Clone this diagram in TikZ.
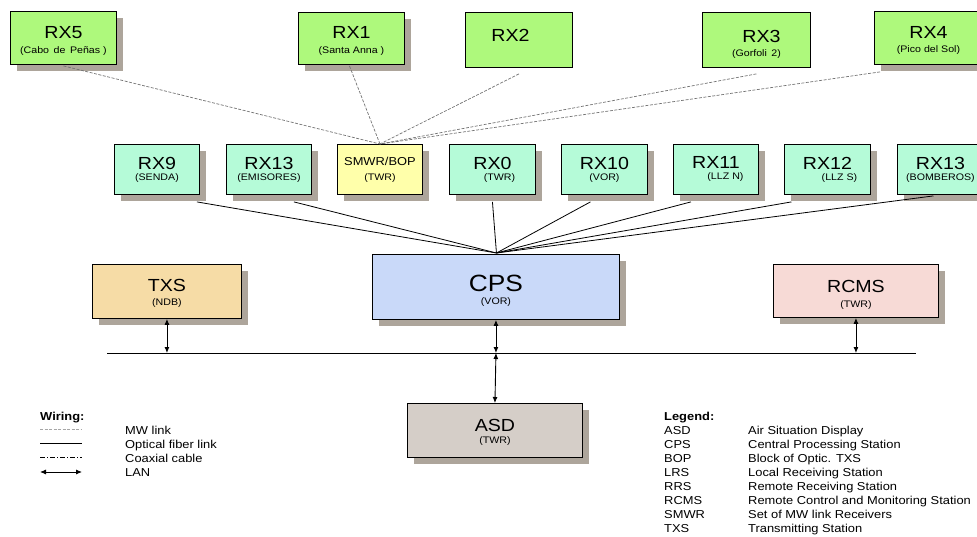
\documentclass[tikz,border=0pt]{standalone}
\usepackage{fontspec}
\setmainfont[FakeStretch=1.12]{Liberation Sans}
\usetikzlibrary{shadows,arrows.meta,calc}
\definecolor{topg}{HTML}{AEF97C}
\definecolor{mintc}{HTML}{B5FBD8}
\definecolor{ylwc}{HTML}{FFFFAA}
\definecolor{tanc}{HTML}{F6DCA6}
\definecolor{bluec}{HTML}{C9D9F9}
\definecolor{pinkc}{HTML}{F7DAD6}
\definecolor{asdc}{HTML}{D5CEC8}
\definecolor{shadc}{HTML}{ADA59B}
\newcommand\sbt[1]{{\fontsize{9.5}{10}\selectfont #1}}
\newcommand\tstrut[1]{\rule{0pt}{#1pt}}
\tikzset{
  box/.style={draw=black, line width=0.9pt, anchor=north west, inner sep=0pt, align=center,
    font=\fontsize{17.5}{17.5}\selectfont},
  shd/.style={drop shadow={shadow xshift=7pt, shadow yshift=-7pt, fill=shadc, opacity=1}},
  mwlink/.style={draw=black!55, line width=0.7pt, dash pattern=on 3pt off 1.5pt},
  fiber/.style={draw=black, line width=0.8pt},
  lan/.style={draw=black, line width=0.9pt, {Latex[length=6pt,width=5pt]}-{Latex[length=6pt,width=5pt]}},
  coax/.style={draw=black, line width=0.8pt, dash pattern=on 5pt off 2pt on 1pt off 2pt},
  legtxt/.style={anchor=base west, inner sep=0pt, font=\fontsize{11.5}{11.5}\selectfont}
}
\begin{document}
\begin{tikzpicture}[x=1pt,y=-1pt]
\useasboundingbox (0,0) rectangle (977,537);
\clip (0,0) rectangle (977,537);
% top row
\node[box, shd, fill=topg, minimum width=106pt, minimum height=53pt] (rx5) at (10,11) {\tstrut{18.5}RX5\\[-3pt]\sbt{(Cabo\, de\, Peñas )}};
\node[box, shd, fill=topg, minimum width=106pt, minimum height=52pt] (rx1) at (298,12) {\tstrut{17.5}RX1\\[-3pt]\sbt{(Santa Anna )}};
\node[box, fill=topg, minimum width=107pt, minimum height=55pt] (rx2) at (465,12) {RX2\hspace*{17pt}\rule[-9pt]{0pt}{9pt}};
\node[box, fill=topg, minimum width=108pt, minimum height=55pt] (rx3) at (702,12) {\tstrut{21.5}\hspace*{10pt}RX3\\[-3pt]\sbt{(Gorfoli\, 2)}};
\node[box, shd, fill=topg, minimum width=108pt, minimum height=53pt] (rx4) at (874,11) {\tstrut{17.5}RX4\\[-3pt]\sbt{(Pico del Sol)}};
% second row
\node[box, shd, fill=mintc, minimum width=85pt, minimum height=50pt] (rx9) at (114,144) {RX9\\[-6.5pt]\sbt{(SENDA)}};
\node[box, shd, fill=mintc, minimum width=85pt, minimum height=50pt] (rx13e) at (226,144) {RX13\\[-6.5pt]\sbt{(EMISORES)}};
\node[box, shd, fill=ylwc, minimum width=85pt, minimum height=50pt, font=\fontsize{11.5}{11.5}\selectfont] (smwr) at (337,144) {SMWR/BOP\\[3.5pt]\sbt{(TWR)}};
\node[box, shd, fill=mintc, minimum width=86pt, minimum height=50pt] (rx0) at (449,144) {RX0\\[-6.5pt]\hspace*{14pt}\sbt{(TWR)}};
\node[box, shd, fill=mintc, minimum width=86pt, minimum height=50pt] (rx10) at (561,144) {RX10\\[-6.5pt]\sbt{(VOR)}};
\node[box, shd, fill=mintc, minimum width=85pt, minimum height=50pt] (rx11) at (673,144) {RX11\\[-6.5pt]\hspace*{19pt}\sbt{(LLZ N)}};
\node[box, shd, fill=mintc, minimum width=86pt, minimum height=50pt] (rx12) at (784,144) {RX12\\[-6.5pt]\hspace*{24pt}\sbt{(LLZ S)}};
\node[box, shd, fill=mintc, minimum width=86pt, minimum height=50pt] (rx13b) at (897,144) {RX13\\[-6.5pt]\sbt{(BOMBEROS)}};
% third row
\node[box, shd, fill=tanc, minimum width=149pt, minimum height=54pt] (txs) at (92,264) {\tstrut{15.5}TXS\\[-3.5pt]\sbt{(NDB)}};
\node[box, shd, fill=bluec, minimum width=247pt, minimum height=65pt, font=\fontsize{23.5}{23.5}\selectfont] (cps) at (372,254) {\tstrut{24.8}CPS\\[-10.5pt]\sbt{(VOR)}};
\node[box, shd, fill=pinkc, minimum width=165pt, minimum height=53pt] (rcms) at (773,264) {\tstrut{19.5}RCMS\\[-2.5pt]\sbt{(TWR)}};
\node[box, shd, fill=asdc, minimum width=175pt, minimum height=54pt] (asd) at (407,403) {\tstrut{16.5}ASD\\[-5.5pt]\sbt{(TWR)}};
% MW links
\draw[mwlink] ([yshift=-1pt]rx5.south) -- (smwr.north);
\draw[mwlink] ([xshift=-2pt,yshift=-1pt]rx1.south) -- (smwr.north);
\draw[mwlink] ([yshift=-6pt]rx2.south) -- (smwr.north);
\draw[mwlink] ([yshift=-6pt]rx3.south) -- (smwr.north);
\draw[mwlink] ([xshift=6pt,yshift=-7pt]rx4.south west) -- (smwr.north);
% fiber links
\coordinate (hub) at ($(cps.north)+(0.5,-1)$);
\draw[fiber] ([xshift=-3pt,yshift=-7pt]rx9.south east) -- (hub);
\draw[fiber] ([xshift=-18pt,yshift=-7pt]rx13e.south east) -- (hub);
\draw[fiber] ([xshift=-0pt,yshift=-7pt]rx0.south) -- (hub);
\draw[fiber] ([xshift=-14pt,yshift=-7pt]rx10.south) -- (hub);
\draw[fiber] ([xshift=-25pt,yshift=-7pt]rx11.south) -- (hub);
\draw[fiber] ([xshift=-36pt,yshift=-7pt]rx12.south) -- (hub);
\draw[fiber] ([xshift=-7pt,yshift=-1pt]rx13b.south) -- (hub);
% LAN bus
\coordinate (busL) at (107,353);
\coordinate (busR) at (916,353);
\draw[fiber, line width=0.9pt] (busL) -- (busR);
\draw[lan] (txs.south) -- (txs.south |- busL);
\draw[lan] (cps.south) -- (cps.south |- busL);
\draw[lan] (cps.south |- busL) -- (asd.north);
\draw[lan] (rcms.south) -- (rcms.south |- busL);
% Wiring legend
\node[legtxt, font=\fontsize{11.5}{11.5}\selectfont\bfseries] (wir) at (40,420) {Wiring:};
\coordinate (w1a) at (40,429); \coordinate (w1b) at (82,429);
\coordinate (w2a) at (40,443); \coordinate (w2b) at (82,443);
\coordinate (w3a) at (40,457); \coordinate (w3b) at (82,457);
\coordinate (w4a) at (40,472); \coordinate (w4b) at (82,472);
\draw[mwlink, draw=black!35] (w1a) -- (w1b);
\draw[fiber] (w2a) -- (w2b);
\draw[coax] (w3a) -- (w3b);
\draw[lan] (w4a) -- (w4b);
\node[legtxt] (l1) at (125,434) {MW link};
\node[legtxt] (l2) at (125,448) {Optical fiber link};
\node[legtxt] (l3) at (125,462) {Coaxial cable};
\node[legtxt] (l4) at (125,476) {LAN};
% Legend
\node[legtxt, font=\fontsize{11.5}{11.5}\selectfont\bfseries] (leg) at (664,420) {Legend:};
\foreach \a/\d [count=\i] in {ASD/Air Situation Display, CPS/Central Processing Station, BOP/Block of Optic. TXS, LRS/Local Receiving Station, RRS/Remote Receiving Station, RCMS/Remote Control and Monitoring Station, SMWR/Set of MW link Receivers, TXS/Transmitting Station}{
  \node[legtxt] (ab\i) at (664,420+14.1*\i) {\a};
  \node[legtxt] (de\i) at (748,420+14.1*\i) {\d};
}
\end{tikzpicture}
\end{document}
